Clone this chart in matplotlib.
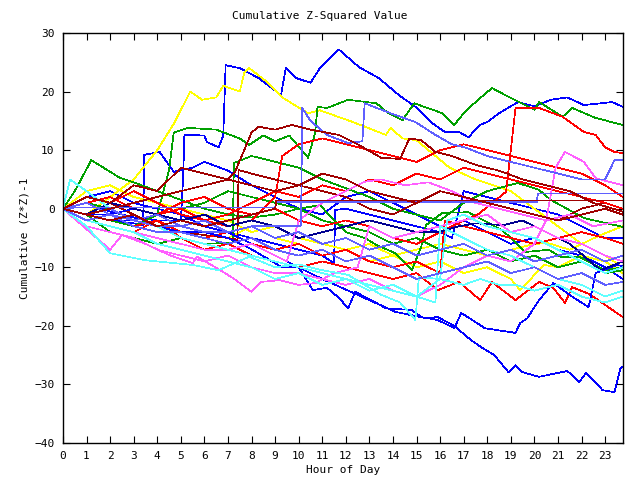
import matplotlib
matplotlib.use("Agg")
import matplotlib.pyplot as plt

# ---- data (hour knots / values) ----
B1_h = [0,1,2,3,4,5,5.1,5.15,6,6.1,6.6,6.8,6.9,7.5,8.3,9.25,9.45,9.9,10.5,10.9,11.7,12.55,13.4,14.25,14.95,15.6,16.2,16.8,17.2,17.7,18,18.5,19.3,20,20.7,21.4,22.1,23.3,23.75]
B1_v = [0,1,-0.5,-1.5,-2,-2,5.5,12.6,12.5,11.4,10.5,12.5,24.5,24,22.3,19.4,24,22.3,21.5,24,27.2,24.2,22.3,19.4,17.4,14.8,13.1,13.1,12.2,14.3,14.8,16.3,18.2,17.5,18.6,19,17.7,18.2,17.4]

B2_h = [0,1,2,3,3.4,3.45,4.1,4.7,5.5,6,7,8,9,10,11,12,13,14,15,16,17,18,19,20,21,22,23,23.75]
B2_v = [0,-1,-2,-2.5,-2.8,9.2,9.7,6.3,7,8,6.5,4,2,0,-1,2,3,1,-1,-3,-2,-4,-6,-5,-7,-8,-10,-12]

B3_h = [0,1,2,3,4,5,6,7,8,9,10,11,11.5,11.55,12,13,14,15,16,16.5,17,18,19,20,21,22,23,23.75]
B3_v = [0,2,3,1,0,-1,-3,-4,-5,-6,-7,-8,-9.3,-0.2,0,-1,-2,-3,-4,-5,3,2,1,0,-1,-3,-5,-5]

Y1_h = [0,1,2,3,4,4.7,5.4,5.9,6.5,6.8,7.5,7.7,7.9,8.7,9.3,10.4,10.9,12.3,13.7,13.9,14.4,15,16.4,17.5,19,20,21,22,23,23.75]
Y1_v = [0,-1,2,5,10,14.5,20,18.6,19,21,20,23.3,24,21.5,19,16.3,16.8,14.8,12.6,13.8,12,11.7,7,5,3,0,-3,-6,-8,-10]

Y2_h = [0,1,2,3,4,5,6,7,8,9,10,11,12,13,14,15,16,17,18,19,19.4,20.4,21,22,23,23.75]
Y2_v = [0,2,1,-1,-3,-4,-4,-5,-3,-5,-6,-8,-7,-9,-8,-10,-9,-11,-10,-12,-13.9,-9.6,-10,-8,-9,-11]

Y3_h = [0,1,2,3,4,5,6,7,8,9,10,11,12,13,14,15,16,17,18,19,20,20.6,21.5,22.8,23.75]
Y3_v = [0,3,4,2,1,0,-1,-2,-4,-3,-5,-6,-7,-6,-8,-7,-6,-7,-8,-7,-6,-5.9,-7,-4.5,-3]

G1_h = [0,1,2,3,4,4.5,4.7,5.3,6.5,7.5,7.9,8.5,9,9.6,10.4,10.7,10.8,11.2,12.1,13.3,13.8,14.4,14.9,16.1,16.6,17,17.5,18.2,19,20,20.2,21.2,21.6,22.6,23.75]
G1_v = [0,-1,-2,-3,-1,6.6,13,13.8,13.5,12,10.9,12.5,11.5,12.5,8.7,13,17.4,17.2,18.6,18,16.3,15.1,18,16.3,14.3,16.3,18.2,20.6,18.9,16.9,18.2,15.7,17.2,15.5,14.3]

G0_h = [0,0.5,1.2,2.4,3,4,5,6,7,8,9,10,10.9,12,12.8,13.3,14.1,14.8,15.2,15.4,16.1,17.2,18.6,19.1,19.6,20.6,21.1,21.9,23,23.75]
G0_v = [0,3,8.3,5.3,4.5,3,1.5,0,-1,-1.5,-1,0,0.6,-4,-5,-6.2,-7.6,-10.5,-6.5,-2.8,-0.7,-0.6,-3.6,-5.3,-7.4,-7,-8.2,-8.2,-10.5,-10]

G2_h = [0,1,2,3,4,5,6,7.2,7.25,8,9,10,11,12,13,14,15,16,17,18,19.3,20.2,20.7,22.1,23.75]
G2_v = [0,-1,-4,-5,-6,-5,-6,-5.8,7.8,9,8,7,5,3.5,2,0,-1,-2,1,3,4.4,3.2,1.5,-1.6,-3.1]

G3_h = [0,1,2,3,4,5,6,7,8,9,10,11,12,13,14,15,16,17,18,19,20,21,22,23,23.75]
G3_v = [0,1,0,-2,-1,0,1,3,2,1,0,-2,-3,-4,-6,-5,-7,-8,-7,-9,-8,-10,-9,-11,-10.5]

R1_h = [0,1,2,3,4,5,6,7,8,9,10,11,12,13,14,15,16,17,17.6,18.8,19.2,20.2,21.2,22.1,22.6,23,23.4,23.75]
R1_v = [0,1,2,0,-1,1,2,0,-1,0,-2,-3,-2,-3,-5,-6,-4,-2,-1,2.9,17.2,17.2,15.7,13.1,12.6,10.5,9.7,9.5]

R2_h = [0,1,2,3,4,5,6,7,8,9,9.3,10,11,12,13,14,15,16,17,18,19,20,21,22,23,23.75]
R2_v = [0,-1,1,3,1,-1,-2,-3,-2,2,9,11,12,11,10,9,8,10,11,10,9,8,7,6,4,2]

R3_h = [0,1,2,3,4,5,6,7,8,9,10,11,12,13,14,15,15.9,16.8,17.7,18.2,19.2,20.2,20.8,21.3,21.6,22.3,23.75]
R3_v = [0,-2,-3,-4,-2,-5,-7,-6,-8,-9,-10,-9,-10,-11,-12,-11,-13.9,-12.5,-15.6,-12.5,-15.6,-12.5,-13.5,-16.1,-13.4,-14.5,-18.5]

R4_h = [0,1,2,3,4,5,6,7,7.4,7.45,8,9,10,11,12,13,14,15,16,17,18,19,20,21,22,23,23.75]
R4_v = [0,2,1,-1,-3,-4,-4.5,-5,-5.3,6.6,6,5,4,3,2,0,-1,1,3,2,1,0,-1,-2,0,1,0]

R5_h = [0,1,2,3,4,5,6,7,8,9,10,11,12,13,14,15,16,16.2,17,18,19,20,21,22,23,23.75]
R5_v = [0,-2,-1,-3,-2,-4,-5,-4,-6,-7,-6,-8,-7,-9,-10,-9,-11,-2,-3,-4,-5,-6,-5,-4,-5,-6]

R6_h = [0,1,2,3,4,5,6,7,8,9,10,11,12,13,14,15,16,17,18,19,20,21,22,23,23.75]
R6_v = [0,1,-1,0,-1,0,-2,-1,1,3,2,4,3,5,4,6,5,7,6,5,4,3,2,1,0]

BL1_h = [0,1,2,3,4,5,6,7,7.9,9.3,10,10.6,11.2,11.7,12.1,12.4,13.3,13.7,14.8,15.2,15.9,16.6,16.9,17.9,19.2,19.4,19.7,20,20.2,20.8,21.6,22.3,22.6,23.5,23.75]
BL1_v = [0,-1,-2,-2,-3,-4,-4,-5,-6.7,-10,-10,-13.9,-13.5,-15.2,-17,-14.2,-16.1,-17,-17.3,-18.5,-19,-20.4,-17.8,-20.4,-21.2,-19.5,-18.7,-16.8,-15.6,-12.7,-15,-16.8,-11,-9.6,-9.8]

BL2_h = [0,1,2,3,4,5,6,7,8,9,10,11,12.55,14.1,15.4,15.9,16.6,17.3,17.8,18.3,18.9,19.2,19.5,20.2,21.4,21.9,22.2,22.9,23.4,23.65,23.75]
BL2_v = [0,-1,-1,0,-1,-2,-3,-4,-6,-8,-10,-12,-14.8,-17.6,-18.7,-18.5,-20,-22.4,-23.8,-25,-27.9,-26.7,-27.9,-28.7,-27.7,-29.6,-28,-31,-31.3,-27.2,-27]

N1_h = [0,1,2,3,4,5,6,7,8,9,10,11,12,13,14,15,15.9,16.8,17.5,18.7,19.5,20.5,21.5,22.8,23.75]
N1_v = [0,-1,1,0,-1,-2,-1,-3,-2,-3,-5,-4,-3,-2,-3,-4,-4,-3,-2.5,-2.8,-2,-4,-6,-10.5,-9]

M1_h = [0,2,2.5,3.5,4.5,5.5,5.7,6.5,7.2,8,8.4,9.2,10,10.7,11.5,12.5,13,14,15,16,17,18,19,20,21,22,23,23.75]
M1_v = [0,-7,-4.5,-6,-7.9,-9.3,-8.2,-10.1,-11.8,-14.2,-12.5,-12.2,-13,-12.7,-11,-10,-3,-5,-4,-3,-2,-1,-4,-3,-5,-6,-8,-9]

M2_h = [0,1,2,3,4,5,6,7,8,9,10,11,12,13,14,15,16,17,18,19,20,20.5,20.9,21.3,22.1,22.6,23.75]
M2_v = [0,-3,-4,-5,-7,-8,-9,-8,-10,-11,-11,-12,-13,-12,-14,-15,-13,-10,-8,-9,-6,-2,7,9.7,8,5.2,4]

M3_h = [0,1,2,3,4,5,6,7,8,9,9.5,10,11,12,12.8,13.5,14.5,15.5,16.5,17.5,18.5,19.5,20.5,21.5,22.5,23.75]
M3_v = [0,-2,-3,-4,-5,-6,-7,-7,-6,-8,-9,-2,1,3,4.6,5,4,4.5,3,1,0,-1,-2,-1,-3,-2]

C1_h = [0,1,2,3.5,5.5,6.6,7.9,9,10,11,12.1,13.5,14.3,14.95,15.1,16,17,17.7,18.5,19.2,20,21,22,23,23.75]
C1_v = [0,-3,-7.6,-8.8,-9.6,-10.5,-8.2,-10,-9.5,-10.5,-11.3,-14.7,-16,-19,-11.7,-12,-13,-12,-13,-13,-14,-13,-15,-16,-15]

C2_h = [0,0.3,1,2,3,4,5,6,7,8,9,10,11,12,13,14,15,15.8,16,17,18,19,20,21,22,23,23.75]
C2_v = [0,5,3,0,-2,-3,-5,-6,-7,-8,-9,-10,-11,-12,-13,-14,-15,-16,-3,-5,-7,-8,-10,-12,-13,-15,-14]

C3_h = [0,1,2,3,4,5,6,7,8,9,10,11,12,13,14,15,16,16.3,17,18,19,20,21,22,23,23.75]
C3_v = [0,-2,-3,-4,-6,-7,-8,-9,-10,-12,-11,-13,-12,-14,-13,-15,-12,-2,-1,-3,-4,-5,-7,-9,-11,-10]

LB1_h = [0,0.5,9,9.05,20.1,20.15,23.75]
LB1_v = [0,0.2,0.2,1.1,1.1,2.6,2.6]

LB2_h = [0,1,2,3,4,5,6,7,8,9,10,11,12,13,14,15,16,17,18,19,20,21,22,23,23.75]
LB2_v = [0,-2,-1,-3,-4,-4,-5,-6,-5,-7,-8,-7,-9,-8,-10,-12,-11,-10,-9,-11,-10,-12,-11,-13,-12.5]

LB3_h = [0,1,2,3,4,5,6,7,8,9,10,10.1,10.15,10.5,11.2,12.1,12.7,12.8,13.9,14.95,15.8,16.5,17.1,18,19,20,21,22,23,23.4,23.75]
LB3_v = [0,1,-1,-2,-3,-3,-4,-4,-3,-3,-3,-2.8,17.2,15,12.6,11.2,11.5,18,16.3,14.8,12.6,11,10.4,9,8,7,6,5,5,8.3,8.3]

LB4_h = [0,1,2,3,4,5,6,7,8,9,10,11,12,13,14,15,16,17,18,19,20,21,22,23,23.75]
LB4_v = [0,-1,0,-2,-1,-3,-2,-4,-3,-5,-4,-6,-5,-7,-6,-8,-7,-6,-8,-7,-9,-8,-7,-9,-8]

DR1_h = [0,1,2,3,4,5,6,7,8,9,9.05,23.75]
DR1_v = [0,-1,-2,-1,-3,-2,-3,-2,-1,0,1.4,1.4]

DR2_h = [0,1,2,3,4,5,6,7,8,9,10,11,12,13,14,15,16,17,18,19,20,21,22,23,23.75]
DR2_v = [0,2,1,4,3,7,6,5,4,3,4,6,5,3,2,1,3,2,1,0,-1,-2,-1,0,-1]

DR3_h = [0,1,2,3,4,5,6,7,7.3,8,8.3,9,9.7,10.5,11.7,12.5,13.5,14.3,14.7,15.2,15.8,16.5,17.5,18.5,19.5,20.5,21.5,22.5,23.75]
DR3_v = [0,-1,0,1,2,3,4,5,6.3,13,14,13.5,14.3,13.5,12.6,11,8.7,8.5,12,11.7,9.7,9,7.5,6.5,5,4,3,1,-0.5]

series = [
    (B1_h, B1_v, '#0000ff'), (B2_h, B2_v, '#0000ff'), (B3_h, B3_v, '#0000ff'),
    (Y1_h, Y1_v, '#ffff00'), (Y2_h, Y2_v, '#ffff00'), (Y3_h, Y3_v, '#ffff00'),
    (G1_h, G1_v, '#00a000'), (G0_h, G0_v, '#00a000'), (G2_h, G2_v, '#00a000'),
    (G3_h, G3_v, '#00a000'),
    (R1_h, R1_v, '#ff0000'), (R2_h, R2_v, '#ff0000'), (R3_h, R3_v, '#ff0000'),
    (R4_h, R4_v, '#a00000'), (R5_h, R5_v, '#ff0000'), (R6_h, R6_v, '#ff0000'),
    (BL1_h, BL1_v, '#0000ff'), (BL2_h, BL2_v, '#0000ff'), (N1_h, N1_v, '#000090'),
    (M1_h, M1_v, '#ff5fff'), (M2_h, M2_v, '#ff5fff'), (M3_h, M3_v, '#ff5fff'),
    (C1_h, C1_v, '#5fffff'), (C2_h, C2_v, '#5fffff'), (C3_h, C3_v, '#5fffff'),
    (LB1_h, LB1_v, '#5f5fff'), (LB2_h, LB2_v, '#5f5fff'), (LB3_h, LB3_v, '#5f5fff'),
    (LB4_h, LB4_v, '#5f5fff'),
    (DR1_h, DR1_v, '#a00000'), (DR2_h, DR2_v, '#a00000'), (DR3_h, DR3_v, '#a00000'),
]

x_ticks = list(range(0, 24))
y_ticks = list(range(-40, 31, 10))

fig = plt.figure(figsize=(6.4, 4.8), dpi=100)
ax = fig.add_axes([63/640, 37/480, 560/640, 410/480])
for h, v, c in series:
    ax.plot(h, v, color=c, lw=0.5, antialiased=False)

ax.set_xlim(0, 23.76)
ax.set_ylim(-40, 30)
ax.set_xticks(x_ticks)
ax.set_yticks(y_ticks)
mono = 'DejaVu Sans Mono'
ax.tick_params(direction='in', length=5, width=0.8, top=True, right=True,
               labelsize=8, pad=6)
for lab in ax.get_xticklabels() + ax.get_yticklabels():
    lab.set_family(mono)
for s in ax.spines.values():
    s.set_linewidth(1.0)
fig.text(0.5, 1 - 16/480, 'Cumulative Z-Squared Value', ha='center', va='center', family=mono, fontsize=8)
fig.text(343/640, 1 - 470/480, 'Hour of Day', ha='center', va='center', family=mono, fontsize=8)
fig.text(25/640, 1 - 238/480, 'Cumulative (Z*Z)-1', ha='center', va='center', rotation=90, family=mono, fontsize=8)
fig.savefig('out.png', dpi=100)
